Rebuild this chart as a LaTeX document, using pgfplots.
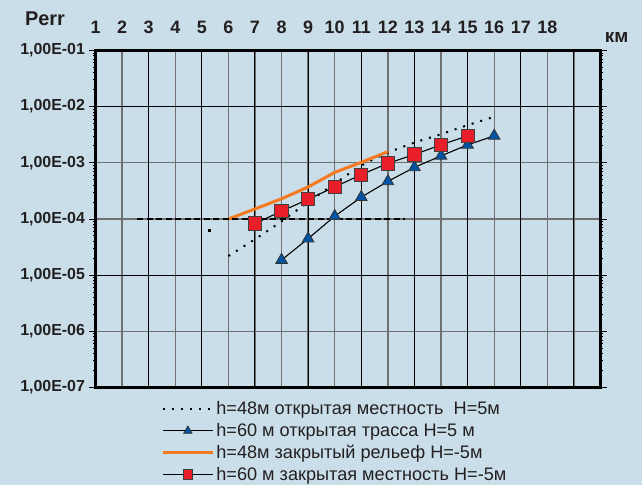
\documentclass[border=0pt]{standalone}
\usepackage{pgfplots}
\pgfplotsset{compat=1.18}
\usepackage{fontspec}
\setmainfont{Liberation Sans}
\definecolor{bg}{RGB}{201,222,233}
\definecolor{orng}{RGB}{244,121,32}
\definecolor{sqred}{RGB}{232,30,40}
\definecolor{triblue}{RGB}{0,84,164}
\definecolor{gridgray}{RGB}{112,112,112}
\definecolor{txt}{RGB}{35,31,32}
\begin{document}
\begin{tikzpicture}
\fill[bg] (0,0) rectangle (642bp,485bp);
\begin{axis}[
  at={(95.5bp,97.5bp)}, anchor=south west,
  scale only axis, width=505bp, height=337bp,
  ymode=log, xmin=1, xmax=20, ymin=1e-7, ymax=1e-1,
  axis line style={line width=2.5bp},
  xtick={1,...,19},
  xticklabels={1,2,3,4,5,6,7,8,9,10,11,12,13,14,15,16,17,18,{}},
  xticklabel pos=upper,
  xtick style={draw=none},
  xticklabel style={font=\fontsize{18}{18}\selectfont\bfseries, text=txt, anchor=base, yshift=11bp},
  ytick={1e-7,1e-6,1e-5,1e-4,1e-3,1e-2,1e-1},
  yticklabels={{1,00E-07},{1,00E-06},{1,00E-05},{1,00E-04},{1,00E-03},{1,00E-02},{1,00E-01}},
  yticklabel style={font=\fontsize{16}{16}\selectfont\bfseries, text=txt, xshift=-1bp},
  ytick style={black, line width=1bp},
  tick align=outside, major tick length=6bp,
  minor y tick num=0,
  grid=major,
  major grid style={gridgray, line width=1.3bp},
  extra x ticks={3,5,...,19},
  extra x tick labels={},
  extra x tick style={major grid style={black, line width=1bp}},
  extra y ticks={1e-2,1e-5},
  extra y tick labels={},
  extra y tick style={major grid style={black, line width=1bp}},
  xlabel={км},
  xlabel style={font=\fontsize{19}{19}\selectfont\bfseries, text=txt, at={(rel axis cs:1.032,1.04)}, anchor=center},
  ylabel={Perr},
  ylabel style={font=\fontsize{20}{20}\selectfont\bfseries, text=txt, rotate=-90, at={(rel axis cs:-0.1,1.095)}, anchor=center},
  legend style={at={(rel axis cs:0.13,-0.036)}, anchor=north west, draw=none, fill=none,
    font=\fontsize{18.2}{18.2}\selectfont, text=txt, cells={anchor=west}, row sep=3.1bp,
    inner sep=0pt},
  legend image code/.code={\draw[mark repeat=2,mark phase=2,#1,mark size=4.8bp] plot coordinates {(0bp,0bp) (25bp,0bp) (50bp,0bp)};},
  legend cell align=left,
]
\addplot[black, line width=2bp, dash pattern=on 2bp off 7bp, smooth] coordinates {
(6,2.19e-5) (7,4.37e-5) (8,9.1e-5) (9,2.0e-4) (10,4.27e-4) (11,8.9e-4) (12,1.51e-3) (13,2.29e-3) (14,3.24e-3) (15,4.68e-3) (16,6.6e-3)};
\addlegendentry{h=48м открытая местность\ \ H=5м}
\addplot[black, line width=1.1bp, mark=triangle*, mark size=6.7bp, mark options={fill=triblue, draw=black!80, line width=0.8bp}] coordinates {
(8,1.86e-5) (9,4.47e-5) (10,1.12e-4) (11,2.45e-4) (12,4.68e-4) (13,8.3e-4) (14,1.33e-3) (15,2.09e-3) (16,3.02e-3)};
\addlegendentry{h=60 м открытая трасса H=5 м}
\addplot[orng, line width=3bp] coordinates {
(6,1.0e-4) (7,1.51e-4) (8,2.29e-4) (9,3.72e-4) (10,6.76e-4) (11,1.02e-3) (12,1.58e-3)};
\addlegendentry{h=48м закрытый рельеф H=-5м}
\addplot[black, line width=1.1bp, mark=square*, mark size=6.6bp, mark options={fill=sqred, draw=black!75, line width=1bp}] coordinates {
(7,8.3e-5) (8,1.38e-4) (9,2.24e-4) (10,3.72e-4) (11,6.17e-4) (12,9.77e-4) (13,1.41e-3) (14,2.09e-3) (15,3.02e-3)};
\addlegendentry{h=60 м закрытая местность H=-5м}
\addplot[black, line width=2.5bp, dash pattern=on 6bp off 3.5bp, forget plot] coordinates {(2.57,1e-4) (12.63,1e-4)};
\addplot[only marks, mark=square*, mark size=1bp, black, forget plot] coordinates {(5.27,6.3e-5)};
\end{axis}
\pgfresetboundingbox
\useasboundingbox (0,0) rectangle (642bp,485bp);
\end{tikzpicture}
\end{document}
